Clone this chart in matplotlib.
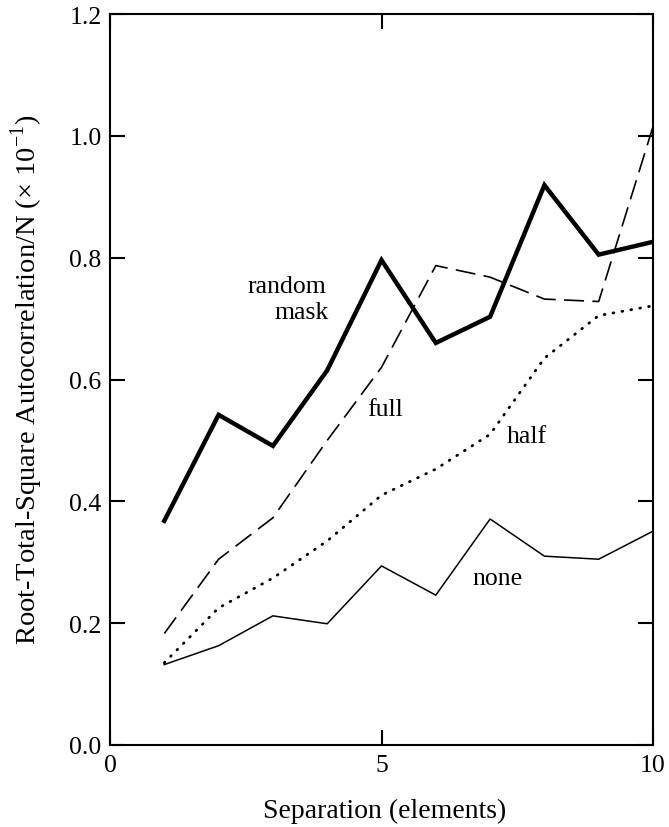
import matplotlib
matplotlib.use("Agg")
import matplotlib.pyplot as plt

plt.rcParams["font.family"] = ["Liberation Serif", "DejaVu Serif"]
plt.rcParams["mathtext.fontset"] = "custom"
plt.rcParams["mathtext.rm"] = "Liberation Serif"

separation = [1, 2, 3, 4, 5, 6, 7, 8, 9, 10]
random_mask = [0.368, 0.542, 0.491, 0.615, 0.796, 0.660, 0.703, 0.919, 0.805, 0.826]
full = [0.183, 0.305, 0.373, 0.500, 0.620, 0.787, 0.768, 0.732, 0.728, 1.015]
half = [0.135, 0.225, 0.274, 0.335, 0.410, 0.453, 0.510, 0.635, 0.705, 0.721]
none = [0.132, 0.163, 0.212, 0.199, 0.294, 0.246, 0.371, 0.310, 0.305, 0.351]

W, H = 669, 828
fig = plt.figure(figsize=(W / 100, H / 100), dpi=100)
ax = fig.add_axes([110 / W, 1 - 746 / H, 543 / W, 731 / H])

ax.plot(separation, random_mask, color="black", lw=3.2, solid_joinstyle="miter")
ax.plot(separation, full, color="black", lw=1.2, dashes=(12, 5))
ax.plot(separation, half, color="black", lw=2.0, linestyle=(0, (0.3, 2.95)),
        dash_capstyle="round")
ax.plot(separation, none, color="black", lw=1.1)

ax.set_xlim(0, 10)
ax.set_ylim(0, 1.2)
ax.set_xticks([0, 5, 10])
ax.set_yticks([0.0, 0.2, 0.4, 0.6, 0.8, 1.0, 1.2])
ax.set_yticklabels(["0.0", "0.2", "0.4", "0.6", "0.8", "1.0", "1.2"])
ax.tick_params(direction="in", length=11, width=1.5, labelsize=18.5,
               top=True, right=True)
ax.tick_params(axis="y", pad=6)
ax.tick_params(axis="x", pad=6.5)
for s in ax.spines.values():
    s.set_linewidth(1.5)

fig.text(385 / W, 1 - 818 / H, "Separation (elements)", fontsize=20,
         ha="center", va="baseline")
fig.text(27 / W, 1 - 380 / H,
         "Root-Total-Square Autocorrelation/N (\u00d7 10$^{\\mathrm{-1}}$)",
         fontsize=20.5, rotation=90, ha="center", va="center")

txt = dict(fontsize=18.5, ha="center", va="center")
ax.text(3.26, 0.754, "random", **txt)
ax.text(3.52, 0.711, "mask", **txt)
ax.text(5.06, 0.552, "full", **txt)
ax.text(7.68, 0.507, "half", **txt)
ax.text(7.13, 0.274, "none", **txt)

fig.savefig("out.png", dpi=100)
